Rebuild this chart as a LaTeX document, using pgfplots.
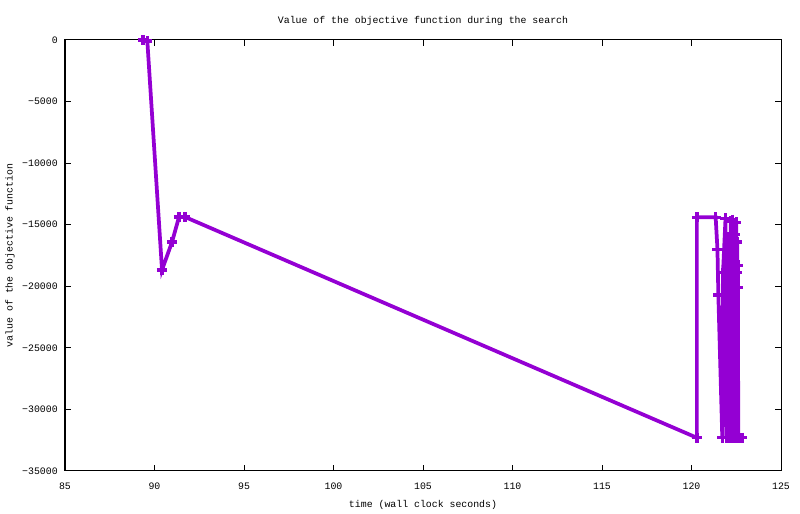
\documentclass[border=0pt]{standalone}
\usepackage{pgfplots}
\pgfplotsset{compat=1.18}
\usepackage{fontspec}
\setmainfont{Liberation Mono}
\definecolor{gpviolet}{HTML}{9400D3}
\begin{document}
\fontsize{7.4}{9}\selectfont
\begin{tikzpicture}
\path[use as bounding box] (0,0) rectangle (600pt,385.5pt);
\begin{axis}[
  at={(48.75pt,32.25pt)}, anchor=south west,
  scale only axis, width=537pt, height=323.25pt,
  xmin=85, xmax=125, ymin=-35000, ymax=0,
  xtick={85,90,...,125}, ytick={-35000,-30000,...,0},
  yticklabels={−35000,−30000,−25000,−20000,−15000,−10000,−5000,0},
  tick align=inside, major tick length=4.5pt,
  axis line style={line width=0.75pt}, tick style={line width=0.75pt, black},
  /pgf/number format/assume math mode=true,
  /pgf/number format/1000 sep={},
  scaled y ticks=false,
  tick label style={font=\fontsize{7.4}{9}\selectfont, inner sep=0pt},
  xticklabel style={anchor=center, yshift=-11.25pt},
  yticklabel style={anchor=east, xshift=-5.25pt},
  clip=false,
]
\addplot[color=gpviolet, line width=2.8pt, mark=+, mark size=3.8pt,
  mark options={line width=2.6pt, solid}] coordinates {
(89.35,0) (89.6,-100)
(90.42,-18670) (90.98,-16400) (91.37,-14370) (91.70,-14370)
(120.30,-32300) (120.30,-14400) (121.35,-14400) (121.45,-17000)
(121.50,-20700) (121.72,-32300) (121.76,-18900) (121.90,-14500)
(121.95,-32300) (122.05,-16000) (122.10,-32300) (122.20,-14700)
(122.25,-32300) (122.30,-14600) (122.35,-32300) (122.40,-15800)
(122.45,-32300) (122.50,-14800) (122.55,-32300) (122.55,-16400)
(122.60,-32300) (122.60,-18300) (122.50,-32300) (122.55,-18900)
(122.62,-32300) (122.58,-20100) (122.45,-32300) (122.82,-32300)
};
\end{axis}
\node at (317.25pt,369.75pt) {Value of the objective function during the search};
\node at (317.25pt,6.75pt) {time (wall clock seconds)};
\node[rotate=90] at (7.5pt,193.9pt) {value of the objective function};
\end{tikzpicture}
\end{document}
